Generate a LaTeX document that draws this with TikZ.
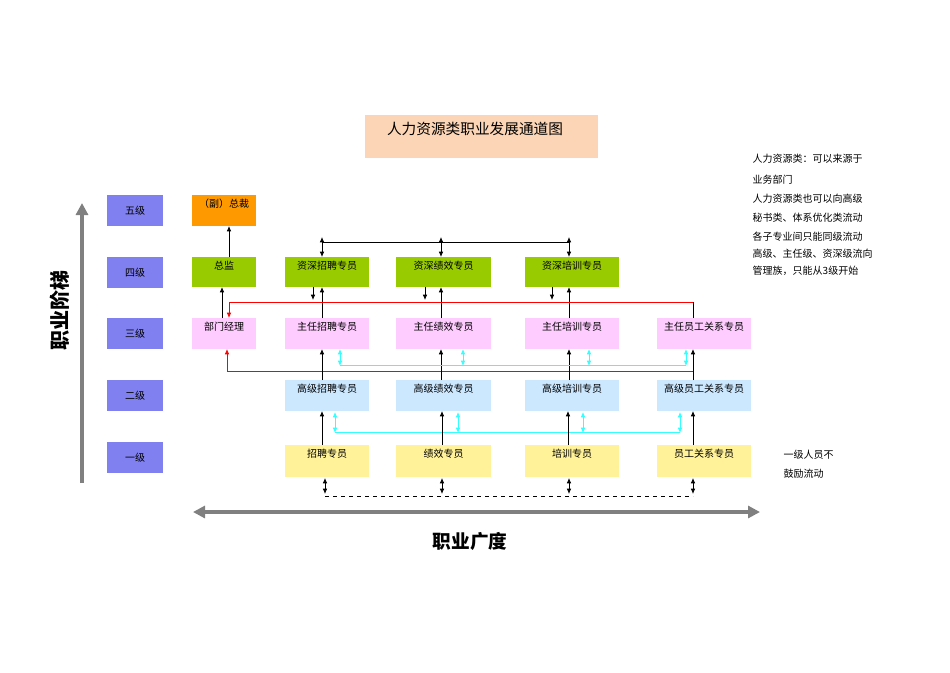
\documentclass[tikz,border=0pt]{standalone}
\usepackage{fontspec}
\setmainfont{Noto Sans CJK SC}
\usetikzlibrary{arrows.meta}
\definecolor{lvl}{HTML}{8080F0}
\definecolor{peach}{HTML}{FBD5B5}
\definecolor{orng}{HTML}{FF9900}
\definecolor{grn}{HTML}{99CC00}
\definecolor{pnk}{HTML}{FFCCFF}
\definecolor{lblue}{HTML}{CCE8FF}
\definecolor{ylw}{HTML}{FFF299}
\definecolor{cyn}{HTML}{33FFFF}
\tikzset{
  box/.style={inner sep=0pt,font=\fontsize{7.5}{9}\selectfont},
  ar/.style={-{Latex[length=4pt,width=3.5pt]},line width=0.6pt},
  dar/.style={{Latex[length=4pt,width=3.5pt]}-{Latex[length=4pt,width=3.5pt]},line width=0.6pt},
  note/.style={anchor=west,font=\fontsize{7.5}{9}\selectfont}
}
\newcommand{\bx}[7]{% name, x1,y1,x2,y2,color,text
  \fill[#6] (#2,#3) rectangle (#4,#5);
  \node[box,anchor=north] (#1) at ({(#2+#4)/2},{#3+4}) {#7};
  \coordinate (#1n) at ({(#2+#4)/2},#3);
}
\begin{document}
\begin{tikzpicture}[x=0.75pt,y=-0.75pt]
\useasboundingbox (0,0) rectangle (950,672);
% title
\fill[peach] (365,115) rectangle (598,158);
\node[font=\fontsize{11}{13}\selectfont] (title) at (475,129) {人力资源类职业发展通道图};
% levels
\foreach \n/\y/\t in {l5/195/五级,l4/257/四级,l3/318/三级,l2/380/二级,l1/442/一级}{
  \fill[lvl] (107,\y) rectangle (163,\y+31);
  \node[box] (\n) at (135,\y+16) {\t};
}
\bx{zc}{192}{195}{256}{226}{orng}{（副）总裁}
\bx{zj}{192}{257}{256}{287}{grn}{\raisebox{-6pt}{总监}}
\bx{bm}{192}{318}{256}{349}{pnk}{部门经理}
\bx{a4}{285}{257}{369}{287}{grn}{资深招聘专员}
\bx{b4}{396}{257}{491}{287}{grn}{资深绩效专员}
\bx{c4}{525}{257}{619}{287}{grn}{资深培训专员}
\bx{a3}{285}{318}{369}{349}{pnk}{主任招聘专员}
\bx{b3}{396}{318}{491}{349}{pnk}{主任绩效专员}
\bx{c3}{525}{318}{619}{349}{pnk}{主任培训专员}
\bx{d3}{657}{318}{751}{349}{pnk}{主任员工关系专员}
\bx{a2}{285}{380}{369}{411}{lblue}{高级招聘专员}
\bx{b2}{396}{380}{491}{411}{lblue}{高级绩效专员}
\bx{c2}{525}{380}{619}{411}{lblue}{高级培训专员}
\bx{d2}{657}{380}{751}{411}{lblue}{高级员工关系专员}
\bx{a1}{285}{445}{369}{477}{ylw}{\raisebox{-4pt}{招聘专员}}
\bx{b1}{396}{445}{491}{477}{ylw}{绩效专员}
\bx{c1}{525}{445}{619}{477}{ylw}{培训专员}
\bx{d1}{657}{445}{751}{477}{ylw}{员工关系专员}
% top connector
\draw[line width=0.6pt] (322,242) -- (569,242);
\foreach \x in {322,441,569} \draw[dar] (\x,237) -- (\x,257);
% down arrows 4 -> just above
\foreach \x in {313,425,552} \draw[ar] (\x,287) -- (\x,300);
% up arrows 3 -> 4
\foreach \x in {322,441,569} \draw[ar] (\x,318) -- (\x,287);
\draw[ar] (229,257) -- (229,226);
\draw[ar] (222,318) -- (222,287);
% red lines
\draw[line width=0.6pt] (693,302) -- (693,318);
\draw[red,ar] (693,302) -- (229,302) -- (229,318);
\draw[red,ar] (693,371) -- (227,371) -- (227,349);
% up arrows 2 -> 3
\foreach \x in {322,441,569,693} \draw[ar] (\x,380) -- (\x,349);
% cyan
\draw[cyn,line width=0.7pt] (340,365) -- (686,365);
\foreach \x in {340,463,589,686} \draw[cyn,dar] (\x,349) -- (\x,366);
\draw[cyn,line width=0.7pt] (335,432) -- (680,432);
\foreach \x in {335,458,583,680} \draw[cyn,dar] (\x,412) -- (\x,433);
% up arrows 1 -> 2
\foreach \x in {322,442,568,693} \draw[ar] (\x,445) -- (\x,411);
% bottom
\foreach \x in {325,442,569,693} \draw[dar] (\x,478) -- (\x,494);
\draw[dashed,line width=0.6pt] (325,496) -- (693,496);
% axes
\draw[gray,line width=2.5pt,-{Triangle[length=9pt,width=9pt]}] (82,483) -- (82,203);
\draw[gray,line width=2.5pt,{Triangle[length=9pt,width=9pt]}-{Triangle[length=9pt,width=9pt]}] (193,512) -- (760,512);
\node[rotate=90,font=\fontsize{15}{17}\bfseries] (yl) at (60,310) {职业阶梯};
\node[font=\fontsize{14}{16}\bfseries] (xl) at (470,541) {职业广度};
% notes
\node[note] (n1) at (748,159) {人力资源类：可以来源于};
\node[note] (n2) at (748,180) {业务部门};
\node[note] (n3) at (748,199) {人力资源类也可以向高级};
\node[note] (n4) at (748,218) {秘书类、体系优化类流动};
\node[note] (n5) at (748,237) {各子专业间只能同级流动};
\node[note] (n6) at (748,254) {高级、主任级、资深级流向};
\node[note] (n7) at (748,271) {管理族，只能从3级开始};
\node[note] (n8) at (779,455) {一级人员不};
\node[note] (n9) at (779,474) {鼓励流动};
\end{tikzpicture}
\end{document}
